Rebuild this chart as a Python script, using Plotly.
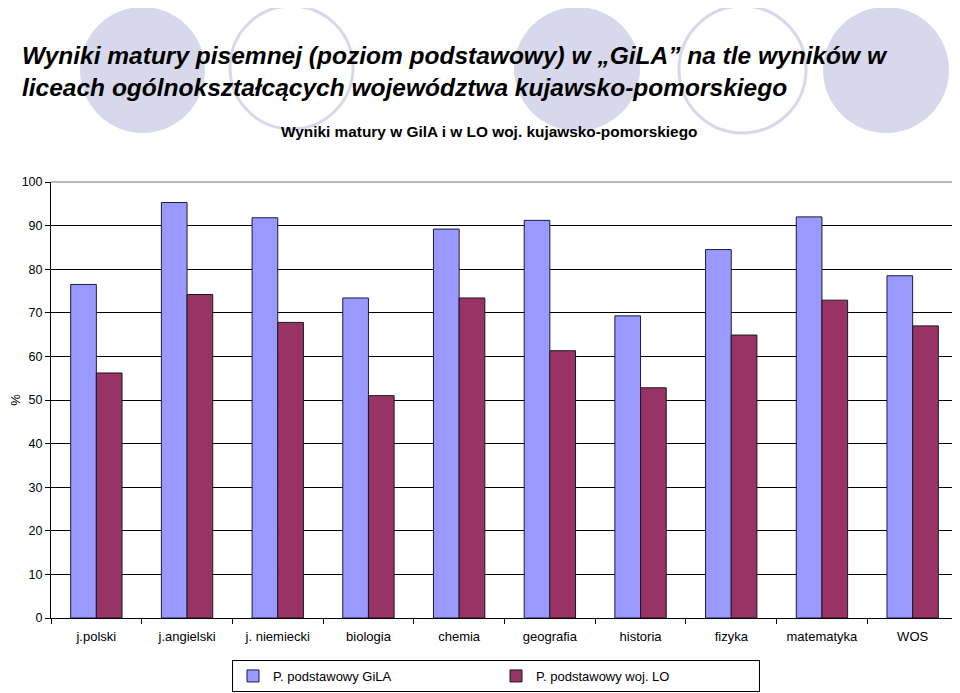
import plotly.graph_objects as go

categories = ["j.polski", "j.angielski", "j. niemiecki", "biologia", "chemia",
              "geografia", "historia", "fizyka", "matematyka", "WOS"]
gila = [76.5, 95.3, 91.8, 73.4, 89.2, 91.2, 69.3, 84.5, 92.0, 78.5]
lo = [56.2, 74.2, 67.8, 51.0, 73.4, 61.3, 52.8, 64.9, 72.9, 67.0]
y_ticks = [0, 10, 20, 30, 40, 50, 60, 70, 80, 90, 100]

# page body has an 8px margin -> figure is drawn from (8, 8)
OFF = 8
W, H = 960 - OFF, 693 - OFF
L, R, T, B = 43, 2, 174, 75
PW, PH = W - L - R, H - T - B


def px(x):
    """reference-screen pixel x -> paper coordinate"""
    return (x - OFF - L) / PW


def py(y):
    """reference-screen pixel y -> paper coordinate"""
    return (H - B - (y - OFF)) / PH


FONT = "Liberation Sans, Arial, sans-serif"

fig = go.Figure()
fig.add_trace(go.Bar(x=categories, y=gila, name="P. podstawowy GiLA",
                     marker=dict(color="#9999FF", line=dict(color="#1a1a40", width=1))))
fig.add_trace(go.Bar(x=categories, y=lo, name="P. podstawowy woj. LO",
                     marker=dict(color="#993366", line=dict(color="#1a1a1a", width=1))))

shapes = []
# decorative circles
circ_col = "#D8D8EC"
circles = [(80, 7, 205, 133, True), (230, 6, 353, 129, False), (514, 7, 640, 131, True),
           (679, 6, 806, 133, False), (823, 7, 949, 133, True)]
for x0, y0, x1, y1, filled in circles:
    shapes.append(dict(type="circle", xref="paper", yref="paper",
                       x0=px(x0), x1=px(x1), y0=py(y1), y1=py(y0),
                       fillcolor=circ_col if filled else "rgba(0,0,0,0)",
                       line=dict(color=circ_col, width=0 if filled else 3),
                       layer="below"))
# gray top/right border
shapes.append(dict(type="line", xref="paper", yref="paper", x0=0, x1=1, y0=1, y1=1,
                   line=dict(color="#A0A0A0", width=1.5), layer="above"))
shapes.append(dict(type="line", xref="paper", yref="paper", x0=1, x1=1, y0=0, y1=1,
                   line=dict(color="#A0A0A0", width=1.5), layer="above"))

fig.update_layout(
    width=W, height=H,
    margin=dict(l=L, r=R, t=T, b=B, pad=0, autoexpand=False),
    paper_bgcolor="white", plot_bgcolor="rgba(0,0,0,0)",
    barmode="group", bargap=0.434, bargroupgap=0,
    font=dict(family=FONT, color="black", size=12),
    title=dict(text="<b><i>Wyniki matury pisemnej (poziom podstawowy) w „GiLA” na tle wyników w<br>"
                    "liceach ogólnokształcących województwa kujawsko-pomorskiego</i></b>",
               x=(22 - OFF) / W, xanchor="left", xref="container",
               y=1 - (64 - OFF) / H, yanchor="top", yref="container",
               font=dict(family=FONT, size=24.5, color="black")),
    shapes=shapes,
    annotations=[dict(text="<b>Wyniki matury w GilA i w LO woj. kujawsko-pomorskiego</b>",
                      xref="paper", yref="paper", x=px(489), y=py(131),
                      xanchor="center", yanchor="middle",
                      showarrow=False, font=dict(family=FONT, size=15.4, color="black"))],
    xaxis=dict(showline=True, linecolor="black", linewidth=1, ticks="outside",
               tickson="boundaries", ticklen=5, tickcolor="black",
               ticklabelstandoff=6,
               tickfont=dict(size=13), showgrid=False),
    yaxis=dict(range=[0, 100], tickvals=y_ticks, showline=True, linecolor="black",
               linewidth=1, ticks="outside", ticklen=5, tickcolor="black",
               showgrid=True, gridcolor="black", gridwidth=1, zeroline=False,
               tickfont=dict(size=12.5),
               title=dict(text="%", font=dict(size=13), standoff=21)),
    legend=dict(orientation="h", x=px(496), xanchor="center", y=py(660), yanchor="top",
                bordercolor="black", borderwidth=1, bgcolor="white",
                font=dict(size=13), entrywidth=218, entrywidthmode="pixels",
                itemwidth=30, traceorder="normal"),
)

fig.write_html("out.html")
